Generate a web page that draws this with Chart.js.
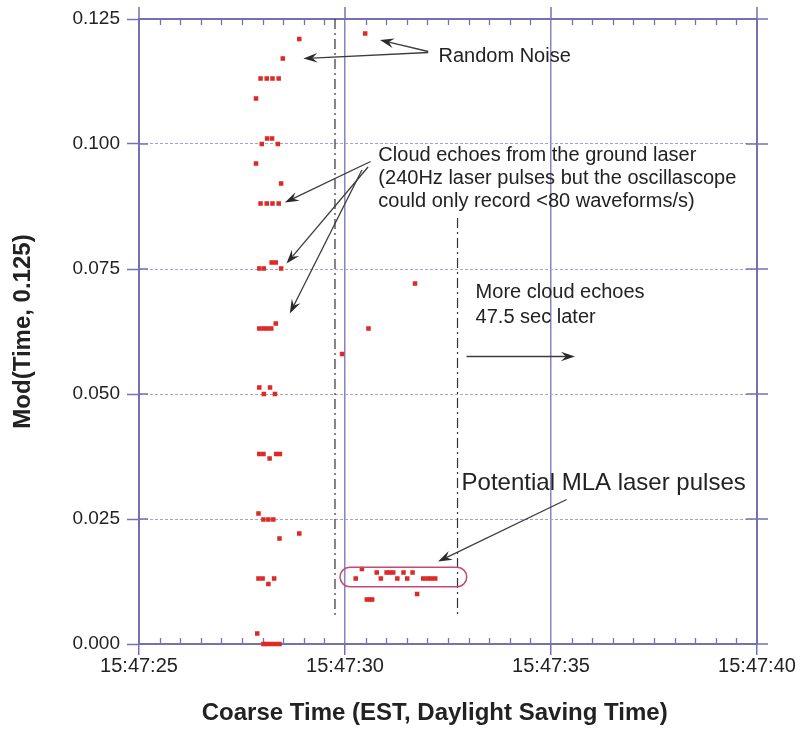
<!DOCTYPE html>
<html><head><meta charset="utf-8">
<script src="https://cdn.jsdelivr.net/npm/chart.js@4.4.1/dist/chart.umd.min.js"></script>
<style>html,body{margin:0;padding:0;background:#fff}#wrap{width:802px;height:730px}</style>
</head><body><div id="wrap"><canvas id="c" width="802" height="730"></canvas></div>
<script>
// ---- data (x = seconds past 15:47:00, y = Mod(Time, 0.125)) ----
const xTickLabels = ['15:47:25','15:47:30','15:47:35','15:47:40'];
const xTickValues = [25, 30, 35, 40];
const yTickLabels = ['0.000','0.025','0.050','0.075','0.100','0.125'];

const groundTimes = [27.95,28.10,28.24,28.39, 27.84, 27.98,28.11,28.23,28.37, 27.84, 28.45,
  27.95,28.10,28.24,28.39, 27.92,28.03,28.22,28.32,28.45, 27.92,28.02,28.11,28.21,28.32,
  27.92,28.03,28.18,28.30, 27.92,28.02,28.17,28.33,28.42, 27.90,28.02,28.14,28.26, 28.41,
  27.90,28.00,28.14,28.28, 27.87, 28.02,28.11,28.21,28.31,28.41];
const groundMods = [0.1131,0.1131,0.1131,0.1131, 0.1091, 0.1000,0.1011,0.1011,0.1000, 0.0961, 0.0921,
  0.0881,0.0881,0.0881,0.0881, 0.0751,0.0751,0.0763,0.0763,0.0751, 0.0631,0.0631,0.0631,0.0631,0.0641,
  0.0513,0.0500,0.0513,0.0500, 0.0380,0.0380,0.0371,0.0380,0.0380, 0.0261,0.0249,0.0249,0.0249, 0.0211,
  0.0131,0.0131,0.0120,0.0131, 0.0021, 0.0000,0.0000,0.0000,0.0000,0.0000];

const noiseTimes = [28.89, 28.49, 30.49, 28.89, 29.93, 30.57, 31.70];
const noiseMods  = [0.1210, 0.1171, 0.1221, 0.0221, 0.0580, 0.0631, 0.0721];

const mlaTimes = [30.26,30.41,30.77,30.87,31.01,31.09,31.17,31.27,31.42,31.51,31.64,31.90,32.00,32.09,32.19,
  30.53,30.60,30.66,31.75];
const mlaMods  = [0.0131,0.0150,0.0143,0.0131,0.0143,0.0143,0.0143,0.0131,0.0143,0.0131,0.0143,0.0131,0.0131,0.0131,0.0131,
  0.0089,0.0089,0.0089,0.0100];

// ---- annotation layout in data units ----
const notes = {
  noiseText: {t:32.27, v:0.1175, text:'Random Noise'},
  noiseArrows: [[32.02,0.1185,30.85,0.1208],[32.02,0.1183,28.99,0.1171]],
  cloudText: {t:30.81, v:[0.0978,0.0931,0.0885], text:['Cloud echoes from the ground laser','(240Hz laser pulses but the oscillascope','could only record <80 waveforms/s)']},
  cloudArrows: [[30.62,0.0965,28.54,0.0883],[30.56,0.0954,28.58,0.0761],[30.41,0.0948,28.66,0.0661]],
  moreText: {t:33.17, v:[0.0703,0.0653], text:['More cloud echoes','47.5 sec later']},
  moreArrow: [32.95,0.0575,35.58,0.0575],
  dashA: [29.757, 0.125, 0.0054],
  dashB: [32.731, 0.0852, 0.0054],
  pill: [29.88, 32.955, 0.01534, 0.01146],
  mlaText: {t:32.83, v:0.0322, text:'Potential MLA laser pulses'},
  mlaArrow: [35.38,0.0289,32.26,0.0165]
};

const FONT = '"Liberation Sans", Arial, Helvetica, sans-serif';
const frameColor = '#7272b2';
const textColor = '#222222';

function pts(ts, ms){ return ts.map((t,i)=>({x:t, y:ms[i]})); }

function arrow(ctx, x1,y1,x2,y2){
  const a = Math.atan2(y2-y1, x2-x1);
  const L=14, W=4.8, N=9;
  const c=Math.cos(a), s=Math.sin(a);
  const nx=x2-N*c, ny=y2-N*s;
  ctx.beginPath(); ctx.moveTo(x1,y1); ctx.lineTo(nx,ny); ctx.stroke();
  const bx=x2-L*c, by=y2-L*s, px=-s, py=c;
  ctx.beginPath(); ctx.moveTo(x2,y2); ctx.lineTo(bx+px*W,by+py*W); ctx.lineTo(nx,ny); ctx.lineTo(bx-px*W,by-py*W); ctx.closePath(); ctx.fill();
}
function line(ctx,x1,y1,x2,y2){ ctx.beginPath(); ctx.moveTo(x1,y1); ctx.lineTo(x2,y2); ctx.stroke(); }

const overlay = {
  id:'overlay',
  beforeDatasetsDraw(chart){
    const {ctx, chartArea:a, scales:{x,y}} = chart;
    ctx.save();
    ctx.strokeStyle = frameColor; ctx.lineWidth = 1.3;
    for(let k=1;k<30;k++){
      if(k%10===0) continue;
      const px = Math.round(x.getPixelForValue(25+k*0.5))+0.5;
      line(ctx,px,a.bottom,px,a.bottom-6);
      line(ctx,px,a.top,px,a.top+6);
    }
    ctx.lineWidth = 1.5;
    yTickLabels.forEach(l=>{
      const py = y.getPixelForValue(parseFloat(l));
      line(ctx,a.left,py,a.left+9,py);
      line(ctx,a.right-11,py,a.right+11,py);
    });
    xTickValues.forEach(t=>{
      const px = x.getPixelForValue(t);
      line(ctx,px,a.top,px,a.top-12);
    });
    ctx.lineWidth = 2;
    line(ctx,a.left,a.top,a.right,a.top);
    line(ctx,a.right,a.top,a.right,a.bottom);
    // dash-dot markers
    ctx.strokeStyle = '#333'; ctx.lineWidth = 1.2; ctx.setLineDash([10,4,2,4]);
    [notes.dashA, notes.dashB].forEach(d=>{
      const px = x.getPixelForValue(d[0]);
      line(ctx,px,y.getPixelForValue(d[1]),px,y.getPixelForValue(d[2]));
    });
    ctx.restore();
  },
  afterDatasetsDraw(chart){
    const {ctx, scales:{x,y}} = chart;
    const X=t=>x.getPixelForValue(t), Y=v=>y.getPixelForValue(v);
    ctx.save();
    // pill
    const [t1,t2,v1,v2] = notes.pill;
    const L=X(t1), R=X(t2), T=Y(v1), B=Y(v2), r=(B-T)/2;
    ctx.strokeStyle='#c44a76'; ctx.lineWidth=1.5;
    ctx.beginPath();
    ctx.moveTo(L+r,T); ctx.lineTo(R-r,T); ctx.arc(R-r,T+r,r,-Math.PI/2,Math.PI/2);
    ctx.lineTo(L+r,B); ctx.arc(L+r,T+r,r,Math.PI/2,Math.PI*1.5); ctx.closePath(); ctx.stroke();
    // text
    ctx.fillStyle=textColor; ctx.textBaseline='middle'; ctx.textAlign='left';
    ctx.font = '20px '+FONT;
    ctx.fillText(notes.noiseText.text, X(notes.noiseText.t), Y(notes.noiseText.v));
    notes.cloudText.text.forEach((s,i)=>ctx.fillText(s, X(notes.cloudText.t), Y(notes.cloudText.v[i])));
    notes.moreText.text.forEach((s,i)=>ctx.fillText(s, X(notes.moreText.t), Y(notes.moreText.v[i])));
    ctx.font = '24px '+FONT;
    ctx.fillText(notes.mlaText.text, X(notes.mlaText.t), Y(notes.mlaText.v));
    // arrows
    ctx.strokeStyle='#3c3c3c'; ctx.fillStyle='#2a2a2a'; ctx.lineWidth=1.3;
    const all = [...notes.noiseArrows, ...notes.cloudArrows, notes.moreArrow, notes.mlaArrow];
    all.forEach(a=>arrow(ctx, X(a[0]),Y(a[1]),X(a[2]),Y(a[3])));
    ctx.restore();
  }
};

const pointStyle = {pointStyle:'rect', pointRadius:3.2, pointBackgroundColor:'#dc2b27', pointBorderWidth:0, showLine:false, clip:false};

new Chart(document.getElementById('c'), {
  type:'scatter',
  data:{datasets:[
    {label:'ground', data:pts(groundTimes,groundMods), ...pointStyle},
    {label:'noise', data:pts(noiseTimes,noiseMods), ...pointStyle},
    {label:'mla', data:pts(mlaTimes,mlaMods), ...pointStyle}
  ]},
  options:{
    responsive:false, devicePixelRatio:1, animation:false, events:[],
    layout:{padding:{left:0,right:45,top:19,bottom:0}},
    plugins:{legend:{display:false}, tooltip:{enabled:false}},
    scales:{
      x:{type:'linear', min:25, max:40,
        afterBuildTicks:s=>{ s.ticks = xTickValues.map(v=>({value:v})); },
        afterFit:s=>{ s.height = 86; },
        ticks:{callback:(v,i)=>xTickLabels[i], color:textColor, font:{family:FONT,size:20,lineHeight:1}, padding:1, maxRotation:0, autoSkip:false},
        grid:{color:c=>(c.tick && (c.tick.value===30||c.tick.value===35))?'#8686be':'rgba(0,0,0,0)', lineWidth:1.5, tickLength:11, tickColor:frameColor, tickWidth:1.5},
        border:{display:true, color:frameColor, width:2},
        title:{display:true, text:'Coarse Time (EST, Daylight Saving Time)\u00A0\u00A0\u00A0\u00A0', color:textColor, font:{family:FONT,size:24,weight:'bold',lineHeight:1}, padding:{top:0,bottom:5}}
      },
      y:{type:'linear', min:0, max:0.125,
        afterBuildTicks:s=>{ s.ticks = yTickLabels.map(l=>({value:parseFloat(l)})); },
        afterFit:s=>{ s.width = 139; },
        ticks:{callback:(v,i)=>yTickLabels[i], color:textColor, font:{family:FONT,size:19,lineHeight:1}, padding:7},
        grid:{color:c=>(c.tick && c.tick.value>0.001 && c.tick.value<0.124)?'#a2a2d6':'rgba(0,0,0,0)', lineWidth:1, tickLength:12, tickColor:frameColor, tickWidth:1.5},
        border:{display:true, color:frameColor, width:2, dash:[3,2]},
        title:{display:true, text:'Mod(Time, 0.125)', color:textColor, font:{family:FONT,size:24,weight:'bold',lineHeight:1}, padding:{top:11,bottom:0}}
      }
    }
  },
  plugins:[overlay]
});
</script>
</body></html>
